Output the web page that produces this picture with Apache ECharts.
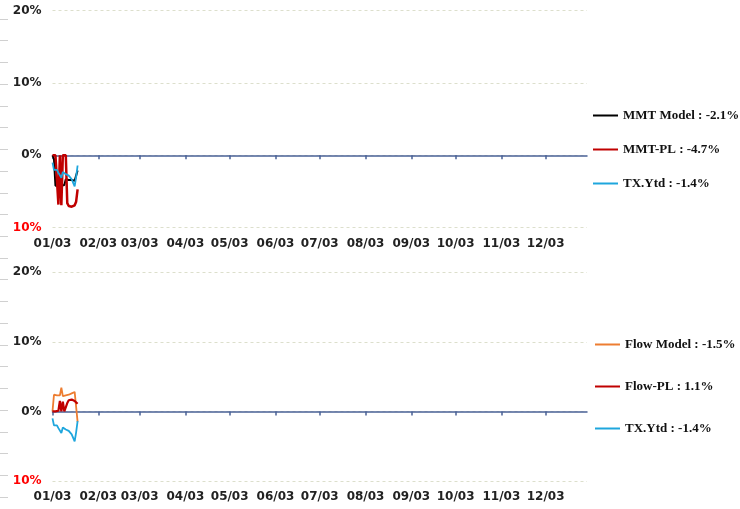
<!DOCTYPE html>
<html>
<head>
<meta charset="utf-8">
<script src="https://cdn.jsdelivr.net/npm/echarts@6/dist/echarts.min.js"></script>
<style>
html,body{margin:0;padding:0;background:#fff;}
#chart{width:740px;height:509px;}
</style>
</head>
<body>
<div id="chart"></div>
<script>
// ---- data ----
const topNames = ['MMT Model : -2.1%', 'MMT-PL : -4.7%', 'TX.Ytd : -1.4%'];
const bottomNames = ['Flow Model : -1.5%', 'Flow-PL : 1.1%', 'TX.Ytd : -1.4%'];
const mmtModel = [0, -0.5, -4.2, -4.3, -4.2, -4.3, -4.2, -4.3, -4.1, -3.3, -3.2, -3.4, -3.3, -3.4, -3.3, -3.5, -2.8, -2.1];
const mmtPL = [0, 0, 0, 0, -6.8, 0, -6.9, 0, -0.2, 0, -6.6, -7.0, -7.1, -7.1, -7.0, -6.9, -6.4, -4.7];
const txYtd = [-1.0, -2.0, -2.2, -2.0, -2.4, -2.2, -3.1, -2.3, -2.5, -2.6, -2.4, -2.8, -3.0, -3.3, -3.8, -4.3, -3.0, -1.4];
const flowModel = [0, 2.4, 2.4, 2.3, 2.3, 2.3, 3.4, 2.2, 2.4, 2.3, 2.2, 2.4, 2.5, 2.6, 2.7, 2.8, 2.6, -1.5];
const flowPL = [0, 0, 0, 0, 0.1, 1.5, 0, 1.4, 0, 0.1, 1.2, 1.6, 1.7, 1.7, 1.6, 1.5, 1.3, 1.1];
const yTicks = { min: -10, max: 20, interval: 10 };

// date categories Jan 3 .. Dec 31 (daily)
const categories = [];
(function () {
  const d = new Date(Date.UTC(2023, 0, 3));
  const end = Date.UTC(2023, 11, 31);
  while (d.getTime() <= end) {
    const mm = String(d.getUTCMonth() + 1).padStart(2, '0');
    const dd = String(d.getUTCDate()).padStart(2, '0');
    categories.push(mm + '/' + dd);
    d.setUTCDate(d.getUTCDate() + 1);
  }
})();

const isMonthTick = (idx, val) => String(val).slice(3) === '03';
const axisColor = '#4a6196';
const gridLineColor = '#dcdfcc';
const labelFont = { fontFamily: 'DejaVu Sans', fontWeight: 'bold', fontSize: 12, color: '#222' };
const legendFont = { fontFamily: 'Liberation Serif', fontWeight: 'bold', fontSize: 13, color: '#111' };

function lineAxis(gi) {
  return {
    type: 'category', gridIndex: gi, data: categories, boundaryGap: false, position: 'bottom',
    axisLine: { show: true, onZero: true, lineStyle: { color: axisColor, width: 1.5 } },
    axisTick: { show: true, interval: isMonthTick, length: 4, lineStyle: { color: axisColor, width: 1.5 } },
    axisLabel: { show: false }, splitLine: { show: false }
  };
}
function labelAxis(gi) {
  return {
    type: 'category', gridIndex: gi, data: categories, boundaryGap: false, position: 'bottom',
    axisLine: { show: false, onZero: false }, axisTick: { show: false },
    axisLabel: Object.assign({ show: true, interval: isMonthTick, margin: 10 }, labelFont),
    splitLine: { show: false }
  };
}
function valAxis(gi) {
  return {
    type: 'value', gridIndex: gi, min: yTicks.min, max: yTicks.max, interval: yTicks.interval,
    axisLine: { show: false }, axisTick: { show: false },
    axisLabel: Object.assign({}, labelFont, {
      margin: 11,
      formatter: v => Math.abs(v) + '%',
      color: v => (v < 0 ? '#ff0000' : '#222')
    }),
    splitLine: { show: true, lineStyle: { color: gridLineColor, type: [3, 3], width: 1 } }
  };
}
function line(name, data, color, xi, yi, width) {
  return {
    name, type: 'line', data, xAxisIndex: xi, yAxisIndex: yi, symbol: 'none', showSymbol: false,
    lineStyle: { color, width: width || 1.5 }, itemStyle: { color }, z: 3
  };
}

const chart = echarts.init(document.getElementById('chart'), null, { renderer: 'canvas' });
chart.setOption({
  animation: false,
  backgroundColor: '#fff',
  grid: [
    { left: 52.5, right: 153, top: 10.7, height: 217 },
    { left: 52.5, right: 153, top: 272.3, height: 208.7 },
    { left: 8, width: 1, top: 19, height: 478 }
  ],
  xAxis: [
    lineAxis(0), labelAxis(0), lineAxis(1), labelAxis(1),
    { type: 'value', gridIndex: 2, show: false }
  ],
  yAxis: [
    valAxis(0), valAxis(1),
    {
      type: 'value', gridIndex: 2, min: 0, max: 22, interval: 1, position: 'left',
      axisLine: { show: false }, axisLabel: { show: false }, splitLine: { show: false },
      axisTick: { show: true, length: 8, lineStyle: { color: '#d0d0d0' } }
    }
  ],
  legend: [
    {
      data: topNames, orient: 'vertical', left: 593, top: 109, padding: 0, icon: 'rect',
      itemWidth: 25, itemHeight: 2, itemGap: 21, textStyle: legendFont
    },
    {
      data: bottomNames, orient: 'vertical', left: 595, top: 338, padding: 0, icon: 'rect',
      itemWidth: 25, itemHeight: 2, itemGap: 29, textStyle: legendFont
    }
  ],
  series: [
    line(topNames[0], mmtModel, '#000000', 0, 0, 2),
    line(topNames[1], mmtPL, '#c00000', 0, 0, 2.5),
    line(topNames[2], txYtd, '#1ea6dd', 0, 0, 1.8),
    line(bottomNames[0], flowModel, '#ed7d31', 2, 1, 1.8),
    line(bottomNames[1], flowPL, '#c00000', 2, 1, 2.2),
    line(bottomNames[2], txYtd, '#1ea6dd', 2, 1, 1.8)
  ]
});
</script>
</body>
</html>
